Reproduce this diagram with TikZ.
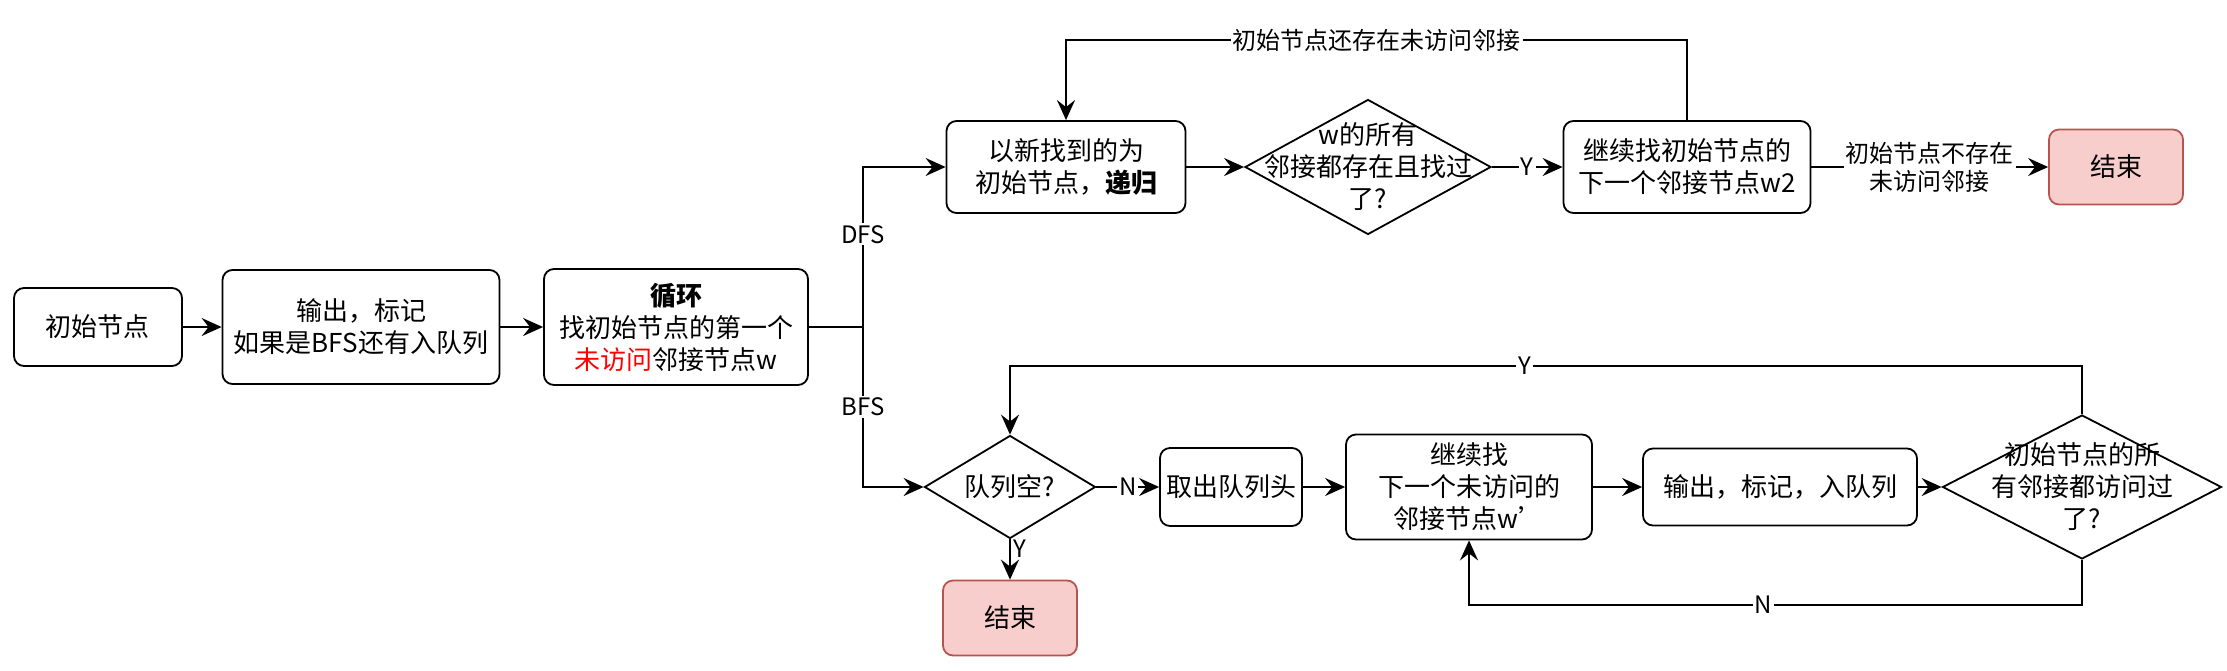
\documentclass[tikz,border=0pt]{standalone}
\usepackage{fontspec}
\setmainfont{Noto Sans CJK SC}
\usetikzlibrary{shapes.geometric,arrows.meta,positioning,calc}
\definecolor{endfill}{HTML}{F8CECC}
\definecolor{endline}{HTML}{B85450}

\begin{document}
\begin{tikzpicture}[
      x=0.5pt, y=-0.5pt,
      every node/.style = {font=\fontsize{13pt}{16pt}\selectfont},
      mybox/.style = {draw, rounded corners=5pt, align=center, line width=0.9pt, inner sep=2pt},
      myend/.style = {mybox, fill=endfill, draw=endline},
      mydia/.style = {diamond, draw, line width=0.9pt, inner sep=0pt},
      mytext/.style = {align=center},
      lbl/.style = {fill=white, inner sep=1pt, align=center, font=\fontsize{12pt}{14pt}\selectfont},
      arr/.style = {-{Stealth[length=10pt,width=9pt,inset=3.5pt]}, line width=0.9pt},
      line/.style = {line width=0.9pt}
      ]
      \useasboundingbox (0,0) rectangle (2227,670);

      % main line
      \node[mybox, minimum width=84pt, minimum height=39pt] (start) at (98,327) {初始节点};
      \node[mybox, minimum width=138.5pt, minimum height=57pt] (out) at (361,327) {输出，标记\\如果是BFS还有入队列};
      \node[mybox, minimum width=132pt, minimum height=58pt] (loop) at (676,327) {\textbf{循环}\\找初始节点的第一个\\\textcolor{red}{未访问}邻接节点w};
      \coordinate (split) at (863,327);

      % DFS row
      \node[mybox, minimum width=119.5pt, minimum height=46pt] (dfs) at (1066,167) {以新找到的为\\初始节点，\textbf{递归}};
      \node[mydia, minimum width=123pt, minimum height=67.5pt] (dcheck) at (1368,167) {};
      \node[mytext] (dchecktext) at (dcheck) {w的所有\\邻接都存在且找过\\了?};
      \node[mybox, minimum width=123.5pt, minimum height=46pt] (next) at (1687,167) {继续找初始节点的\\下一个邻接节点w2};
      \node[myend, minimum width=67pt, minimum height=37.5pt] (end1) at (2116,167) {结束};
      \coordinate (toprow) at (0,40);

      % BFS row
      \node[mydia, minimum width=85.5pt, minimum height=51.5pt] (qempty) at (1010,487) {};
      \node[mytext] (qemptytext) at (qempty) {队列空?};
      \node[mybox, minimum width=71pt, minimum height=39pt] (deq) at (1231,487) {取出队列头};
      \node[mybox, minimum width=123pt, minimum height=52.5pt] (findnext) at (1469,487) {继续找\\下一个未访问的\\邻接节点w’};
      \node[mybox, minimum width=137pt, minimum height=38.5pt] (outq) at (1780,487) {输出，标记，入队列};
      \node[mydia, minimum width=139.5pt, minimum height=72pt] (allvis) at (2082,487) {};
      \node[mytext] (allvistext) at (allvis) {初始节点的所\\有邻接都访问过\\了?};
      \node[myend, minimum width=67pt, minimum height=37.5pt] (end2) at (1010,618) {结束};
      \coordinate (yrow) at (0,366);
      \coordinate (nrow) at (0,605);

      \draw[arr] (start) -- (out);
      \draw[arr] (out) -- (loop);
      \draw[line] (loop) -- (split);
      \draw[arr] (split) |- (dfs.west) node[lbl, pos=0.29] {DFS};
      \draw[arr] (split) |- (qempty.west) node[lbl, pos=0.25] {BFS};

      \draw[arr] (dfs) -- (dcheck);
      \draw[arr] (dcheck) -- (next) node[lbl, midway] {Y};
      \draw[arr] (next.north) |- (dfs.north |- toprow) node[lbl, pos=0.75] {初始节点还存在未访问邻接} -- (dfs.north);
      \draw[arr] (next) -- (end1) node[lbl, midway] {初始节点不存在\\未访问邻接};

      \draw[arr] (qempty) -- (deq) node[lbl, midway] {N};
      \draw[arr] (qempty) -- (end2) node[lbl, pos=0.22, right, fill=none, inner sep=1.5pt] {Y};
      \draw[arr] (deq) -- (findnext);
      \draw[arr] (findnext) -- (outq);
      \draw[arr] (outq) -- (allvis);
      \draw[arr] (allvis.north) |- (qempty.north |- yrow) node[lbl, pos=0.76] {Y} -- (qempty.north);
      \draw[arr] (allvis.south) |- (findnext.south |- nrow) node[lbl, pos=0.76] {N} -- (findnext.south);
    \end{tikzpicture}
\end{document}
